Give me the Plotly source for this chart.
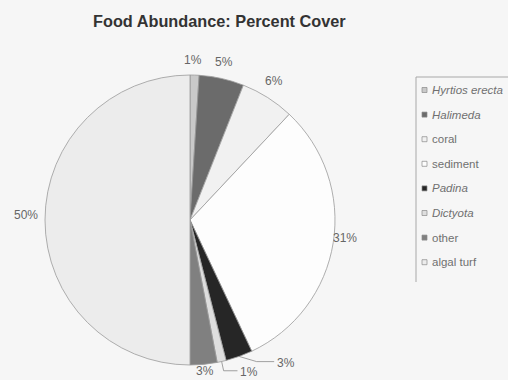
import math
import plotly.graph_objects as go

# ---- data ----
labels = ["Hyrtios erecta", "Halimeda", "coral", "sediment", "Padina", "Dictyota", "other", "algal turf"]
italic = [True, True, False, False, True, True, False, False]
values = [1, 5, 6, 31, 3, 1, 3, 50]
colors = ["#c9c9c9", "#6b6b6b", "#f1f1f1", "#fdfdfd", "#262626", "#dedede", "#808080", "#ececec"]

# ---- label placement tweaks (style only) ----
angle_shift = [-0.7, -0.5, -1.3, -2.4, -14.2, -8.8, -0.1, 1.7]
label_r = [160, 162, 162, 156, 172, 163, 152, 164]
leader = [False, False, False, False, True, True, False, False]

W, H = 508, 380
cx, cy, R = 190, 220, 145
FONT = "Liberation Sans, Arial"

fig = go.Figure()
fig.add_trace(go.Pie(
    labels=labels, values=values, sort=False, direction="clockwise", rotation=0,
    marker=dict(colors=colors, line=dict(color="#9a9a9a", width=0.8)),
    textinfo="none", hoverinfo="label+percent", showlegend=False,
    domain=dict(x=[(cx - R) / W, (cx + R) / W], y=[(H - cy - R) / H, (H - cy + R) / H]),
))

def px2paper(x, y):
    return x / W, 1 - y / H

def line(x0, y0, x1, y1, color, width):
    p0 = px2paper(x0, y0)
    p1 = px2paper(x1, y1)
    return dict(type="line", xref="paper", yref="paper", x0=p0[0], y0=p0[1],
                x1=p1[0], y1=p1[1], line=dict(color=color, width=width))

total = sum(values)
cum = 0
annotations = []
shapes = []
for i, v in enumerate(values):
    mid = (cum + v / 2) / total * 360
    cum += v
    pct = round(v / total * 100)
    a = math.radians(mid + angle_shift[i])
    lx = cx + label_r[i] * math.sin(a)
    ly = cy - label_r[i] * math.cos(a)
    px, py = px2paper(lx, ly)
    annotations.append(dict(x=px, y=py, xref="paper", yref="paper", text=f"{pct}%",
                            xanchor="center", yanchor="middle", showarrow=False,
                            font=dict(size=12, color="#666666", family=FONT)))
    if leader[i]:
        am = math.radians(mid)
        ex = cx + R * math.sin(am)
        ey = cy - R * math.cos(am)
        kx, ky = lx - 12, ly - 1
        if i == 5:
            bx, by = ex + 2, ky
        else:
            bx, by = ex + (kx - ex) * 0.5, ky
        shapes.append(line(ex, ey, bx, by, "#8a8a8a", 0.8))
        shapes.append(line(bx, by, kx, ky, "#8a8a8a", 0.8))

# ---- manual legend ----
lg_left, lg_top, lg_bottom = 416, 77, 282
item_y0, item_dy = 90, 24.6
sq = 5
shapes.append(line(lg_left, lg_top, lg_left, lg_bottom, "#a8a8a8", 1))
shapes.append(line(lg_left, lg_top, W + 2, lg_top, "#a8a8a8", 1))
for i, lab in enumerate(labels):
    yy = item_y0 + i * item_dy
    p0 = px2paper(422, yy - sq / 2)
    p1 = px2paper(422 + sq, yy + sq / 2)
    shapes.append(dict(type="rect", xref="paper", yref="paper", x0=p0[0], y0=p0[1],
                       x1=p1[0], y1=p1[1], fillcolor=colors[i],
                       line=dict(color="#8a8a8a", width=0.7)))
    tx, ty = px2paper(430, yy)
    txt = f"<i>{lab}</i>" if italic[i] else lab
    annotations.append(dict(x=tx, y=ty, xref="paper", yref="paper", text=txt,
                            xanchor="left", yanchor="middle", showarrow=False,
                            font=dict(size=11.5, color="#707070", family=FONT)))

# ---- title ----
tx, ty = px2paper(219.5, 20.5)
annotations.append(dict(x=tx, y=ty, xref="paper", yref="paper",
                        xanchor="center", yanchor="middle",
                        text="<b>Food Abundance: Percent Cover</b>", showarrow=False,
                        font=dict(size=16.3, color="#333333", family=FONT)))

fig.update_layout(
    width=W, height=H, margin=dict(l=0, r=0, t=0, b=0),
    paper_bgcolor="#f6f6f6", plot_bgcolor="#f6f6f6",
    annotations=annotations, shapes=shapes, showlegend=False,
)
fig.write_html("out.html")
